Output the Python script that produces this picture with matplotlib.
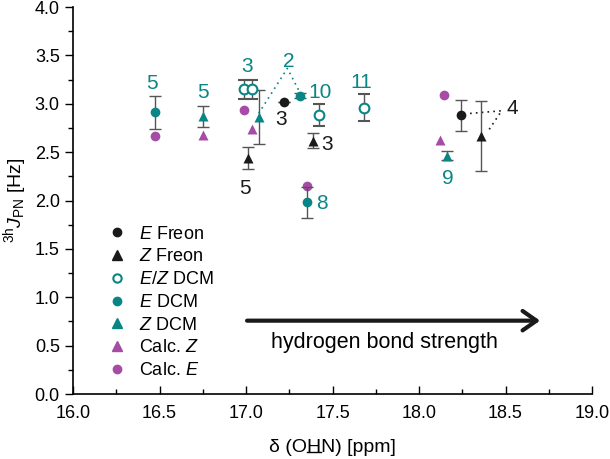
import matplotlib
matplotlib.use("Agg")
import matplotlib.pyplot as plt
from matplotlib.lines import Line2D
from matplotlib.ticker import MultipleLocator, FormatStrFormatter

plt.rcParams['font.family'] = ['Liberation Sans', 'DejaVu Sans']
plt.rcParams['mathtext.fontset'] = 'custom'
plt.rcParams['mathtext.rm'] = 'Liberation Sans'
plt.rcParams['mathtext.it'] = 'Liberation Sans:italic'

TEAL = '#0a8585'
MAGENTA = '#a64ca6'
BLACK = '#1a1a1a'
ERRC = '#555555'

# data
e_freon_x = [17.22, 18.245]
e_freon_y = [3.02, 2.88]
e_freon_err = [0.0, 0.16]

z_freon_x = [17.014, 17.39, 18.357]
z_freon_y = [2.44, 2.62, 2.67]
z_freon_err = [0.117, 0.08, 0.36]

ez_dcm_x = [16.988, 17.033, 17.422, 17.684]
ez_dcm_y = [3.15, 3.15, 2.885, 2.96]
ez_dcm_err = [0.1, 0.1, 0.115, 0.14]

e_dcm_x = [16.474, 17.314, 17.353]
e_dcm_y = [2.91, 3.085, 1.98]
e_dcm_err = [0.17, 0.03, 0.16]

z_dcm_x = [16.753, 17.073, 18.164]
z_dcm_y = [2.87, 2.86, 2.465]
z_dcm_err = [0.11, 0.28, 0.05]

calc_z_x = [16.753, 17.033, 18.121]
calc_z_y = [2.68, 2.735, 2.63]

calc_e_x = [16.474, 16.988, 17.353, 18.145]
calc_e_y = [2.67, 2.935, 2.155, 3.095]

# point labels (text, x, y, colour)
labels = [
    ('5', 16.455, 3.21, TEAL),
    ('5', 16.753, 3.114, TEAL),
    ('3', 17.004, 3.39, TEAL),
    ('5', 16.996, 2.126, BLACK),
    ('3', 17.202, 2.84, BLACK),
    ('2', 17.245, 3.435, TEAL),
    ('10', 17.428, 3.114, TEAL),
    ('11', 17.669, 3.218, TEAL),
    ('3', 17.466, 2.574, BLACK),
    ('8', 17.438, 1.971, TEAL),
    ('9', 18.166, 2.23, TEAL),
    ('4', 18.539, 2.953, BLACK),
]

fig = plt.figure(figsize=(6.1, 4.59), dpi=100)
ax = fig.add_axes([0.1197, 0.1416, 0.8508, 0.8431])

ekw = dict(ecolor=ERRC, elinewidth=1, capsize=4, capthick=1, linestyle='none', zorder=3)

# calculated values first (behind)
ax.plot(calc_z_x, calc_z_y, '^', color=MAGENTA, ms=7.5, mec='none', zorder=2)
ax.plot(calc_e_x, calc_e_y, 'o', color=MAGENTA, ms=7, mec='none', zorder=2)

ax.errorbar(e_dcm_x, e_dcm_y, yerr=e_dcm_err, fmt='o', color=TEAL, ms=7, mec='none', **ekw)
ax.errorbar(z_dcm_x, z_dcm_y, yerr=z_dcm_err, fmt='^', color=TEAL, ms=7.5, mec='none', **ekw)
ax.errorbar(ez_dcm_x, ez_dcm_y, yerr=ez_dcm_err, fmt='o', color=TEAL, ms=7, mfc='white',
            mec=TEAL, mew=1.5, **ekw)
ax.errorbar(e_freon_x, e_freon_y, yerr=e_freon_err, fmt='o', color=BLACK, ms=7, mec='none', **ekw)
ax.errorbar(z_freon_x, z_freon_y, yerr=z_freon_err, fmt='^', color=BLACK, ms=7.5, mec='none', **ekw)

for txt, x, y, c in labels:
    ax.text(x, y, txt, color=c, fontsize=15, ha='center', va='center', zorder=4)

# dotted connectors for labels 2 and 4
dot = dict(ls=(0, (1, 2.5)), lw=1.2, zorder=1)
ax.plot([17.073, 17.239, 17.314], [2.90, 3.366, 3.108], color=TEAL, **dot)
ax.plot([18.295, 18.478, 18.40], [2.90, 2.928, 2.72], color=BLACK, **dot)

# arrow
ax.annotate('', xy=(18.70, 0.758), xytext=(17.006, 0.758),
            arrowprops=dict(arrowstyle='->,head_length=0.5,head_width=0.35', lw=3,
                            color=BLACK, shrinkA=0, shrinkB=0, mutation_scale=20))
ax.text(17.798, 0.537, 'hydrogen bond strength', fontsize=15.5, ha='center', va='center')

ax.set_xlim(16.0, 19.0)
ax.set_ylim(0.0, 4.0)
ax.xaxis.set_major_locator(MultipleLocator(0.5))
ax.xaxis.set_minor_locator(MultipleLocator(0.25))
ax.yaxis.set_major_locator(MultipleLocator(0.5))
ax.yaxis.set_minor_locator(MultipleLocator(0.25))
ax.xaxis.set_major_formatter(FormatStrFormatter('%.1f'))
ax.yaxis.set_major_formatter(FormatStrFormatter('%.1f'))
ax.tick_params(axis='x', which='both', direction='in', labelsize=13, pad=8)
ax.tick_params(axis='y', which='both', direction='out', labelsize=13)
ax.tick_params(which='major', length=6, width=1)
ax.tick_params(which='minor', length=3.5, width=1)
for s in ('top', 'right'):
    ax.spines[s].set_visible(False)
for s in ('left', 'bottom'):
    ax.spines[s].set_linewidth(1.2)

xlab = ax.set_xlabel('δ (OHN) [ppm]', fontsize=14, labelpad=12)
ax.set_ylabel(r'$^{\mathrm{3h}}J_{\mathrm{PN}}$ [Hz]', fontsize=14, labelpad=4)

handles = [
    Line2D([], [], ls='none', marker='o', color=BLACK, ms=6),
    Line2D([], [], ls='none', marker='^', color=BLACK, ms=6.5),
    Line2D([], [], ls='none', marker='o', mfc='white', mec=TEAL, mew=1.5, ms=6),
    Line2D([], [], ls='none', marker='o', color=TEAL, ms=6),
    Line2D([], [], ls='none', marker='^', color=TEAL, ms=6.5),
    Line2D([], [], ls='none', marker='^', color=MAGENTA, ms=6.5),
    Line2D([], [], ls='none', marker='o', color=MAGENTA, ms=6),
]
names = [r'$E$ Freon', r'$Z$ Freon', r'$E$/$Z$ DCM', r'$E$ DCM', r'$Z$ DCM',
         r'Calc. $Z$', r'Calc. $E$']
ax.legend(handles, names, loc='upper left', bbox_to_anchor=(0.04, 0.468), frameon=False,
          fontsize=13, handlelength=1.2, handletextpad=0.6, labelspacing=0.32,
          borderpad=0.2)

# underline the H in the x label
fig.canvas.draw()
r = fig.canvas.get_renderer()
bb = xlab.get_window_extent(r)
def _w(s):
    t = fig.text(0, 0, s, fontsize=14)
    w = t.get_window_extent(r).width
    t.remove()
    return w
x0 = bb.x0 + _w('δ (O')
x1 = bb.x0 + _w('δ (OH')
yl = bb.y0 + 3.5
fig.add_artist(Line2D([x0 / fig.bbox.width, x1 / fig.bbox.width],
                      [yl / fig.bbox.height] * 2, color='black', lw=1))

fig.savefig('out.png', dpi=100)
